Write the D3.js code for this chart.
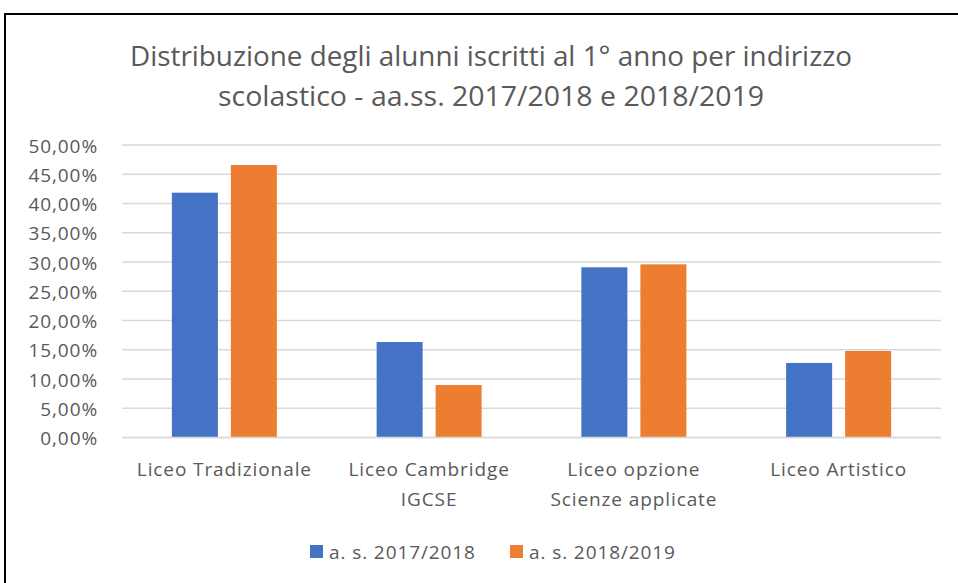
<!DOCTYPE html>
<html>
<head>
<meta charset="utf-8">
<script src="https://cdn.jsdelivr.net/npm/d3@7"></script>
<style>
  body { margin: 0; background: #fff; }
  svg text { font-family: "Open Sans", "Noto Sans", sans-serif; fill: #595959; }
</style>
</head>
<body>
<div id="viz"></div>
<script>
// categories (x axis) with their label lines
const categories = ["Liceo Tradizionale", "Liceo Cambridge IGCSE", "Liceo opzione Scienze applicate", "Liceo Artistico"];
const categoryLines = [["Liceo Tradizionale"], ["Liceo Cambridge", "IGCSE"], ["Liceo opzione", "Scienze applicate"], ["Liceo Artistico"]];
const seriesNames = ["a. s. 2017/2018", "a. s. 2018/2019"];
const values2017 = [41.85, 16.32, 29.09, 12.74];
const values2018 = [46.58, 8.97, 29.6, 14.79];
const yTicks = [0, 5, 10, 15, 20, 25, 30, 35, 40, 45, 50];
const titleLines = ["Distribuzione degli alunni iscritti al 1° anno per indirizzo", "scolastico - aa.ss. 2017/2018 e 2018/2019"];
const colors = ["#4472C4", "#ED7D31"];

const width = 958, height = 583;
const svg = d3.select("#viz").append("svg")
    .attr("width", width)
    .attr("height", height);

// chart frame (runs off the right/bottom edge like the screenshot)
svg.append("rect")
    .attr("x", 5).attr("y", 14)
    .attr("width", 980).attr("height", 620)
    .attr("fill", "#fff")
    .attr("stroke", "#000")
    .attr("stroke-width", 2);

// title
svg.append("g").selectAll("text")
    .data(titleLines)
    .join("text")
    .attr("x", 491)
    .attr("y", (d, i) => 66 + i * 40)
    .attr("text-anchor", "middle")
    .attr("font-size", 27)
    .attr("textLength", (d, i) => i === 0 ? 722 : 546)
    .attr("lengthAdjust", "spacingAndGlyphs")
    .text(d => d);

// scales
const plotLeft = 122, plotRight = 941;
const x0 = d3.scaleBand().domain(categories).range([plotLeft, plotRight]).padding(0);
const x1 = d3.scaleBand().domain(seriesNames)
    .range([x0.bandwidth() / 2 - 52.5, x0.bandwidth() / 2 + 52.5])
    .paddingInner(0.22);
const y = d3.scaleLinear().domain([0, 50]).range([437.5, 145]);

// gridlines
svg.append("g").selectAll("line")
    .data(yTicks)
    .join("line")
    .attr("x1", plotLeft).attr("x2", plotRight)
    .attr("y1", d => y(d)).attr("y2", d => y(d))
    .attr("stroke", "#D9D9D9")
    .attr("stroke-width", 1.5);

// y axis labels
const yAxis = d3.axisLeft(y)
    .tickValues(yTicks)
    .tickSize(0)
    .tickPadding(0)
    .tickFormat(d => d3.format(".2f")(d).replace(".", ",") + "%");
const yg = svg.append("g")
    .attr("transform", "translate(98,0)")
    .call(yAxis);
yg.select(".domain").remove();
yg.selectAll("text")
    .attr("font-size", 19)
    .attr("dy", "0.38em")
    .attr("fill", "#595959")
    .style("letter-spacing", "0.9px")
    .style("font-family", "'Open Sans', sans-serif");

// bars
const rows = categories.map((c, i) => ({ cat: c, vals: [values2017[i], values2018[i]] }));
const groups = svg.append("g").selectAll("g")
    .data(rows)
    .join("g")
    .attr("transform", d => `translate(${x0(d.cat)},0)`);
groups.selectAll("rect")
    .data(d => d.vals.map((v, j) => ({ s: seriesNames[j], v, j })))
    .join("rect")
    .attr("x", d => x1(d.s))
    .attr("width", x1.bandwidth())
    .attr("y", d => y(d.v))
    .attr("height", d => y(0) - y(d.v))
    .attr("fill", d => colors[d.j]);

// baseline over bars
svg.append("line")
    .attr("x1", plotLeft).attr("x2", plotRight)
    .attr("y1", y(0)).attr("y2", y(0))
    .attr("stroke", "#D9D9D9").attr("stroke-width", 1.5);

// x axis labels
svg.append("g").selectAll("text")
    .data(categories)
    .join("text")
    .attr("x", d => x0(d) + x0.bandwidth() / 2)
    .attr("y", 476)
    .attr("text-anchor", "middle")
    .attr("font-size", 19)
    .style("letter-spacing", "0.9px")
    .each(function (d, i) {
        d3.select(this).selectAll("tspan")
            .data(categoryLines[i])
            .join("tspan")
            .attr("x", x0(d) + x0.bandwidth() / 2)
            .attr("dy", (t, k) => k === 0 ? 0 : 30)
            .text(t => t);
    });

// legend
const legendX = [310, 510];
const legend = svg.append("g").selectAll("g")
    .data(seriesNames)
    .join("g")
    .attr("transform", (d, i) => `translate(${legendX[i]},545)`);
legend.append("rect")
    .attr("width", 13).attr("height", 13)
    .attr("fill", (d, i) => colors[i]);
legend.append("text")
    .attr("x", 19).attr("y", 13.5)
    .attr("font-size", 19)
    .style("letter-spacing", "0.9px")
    .text(d => d);
</script>
</body>
</html>
